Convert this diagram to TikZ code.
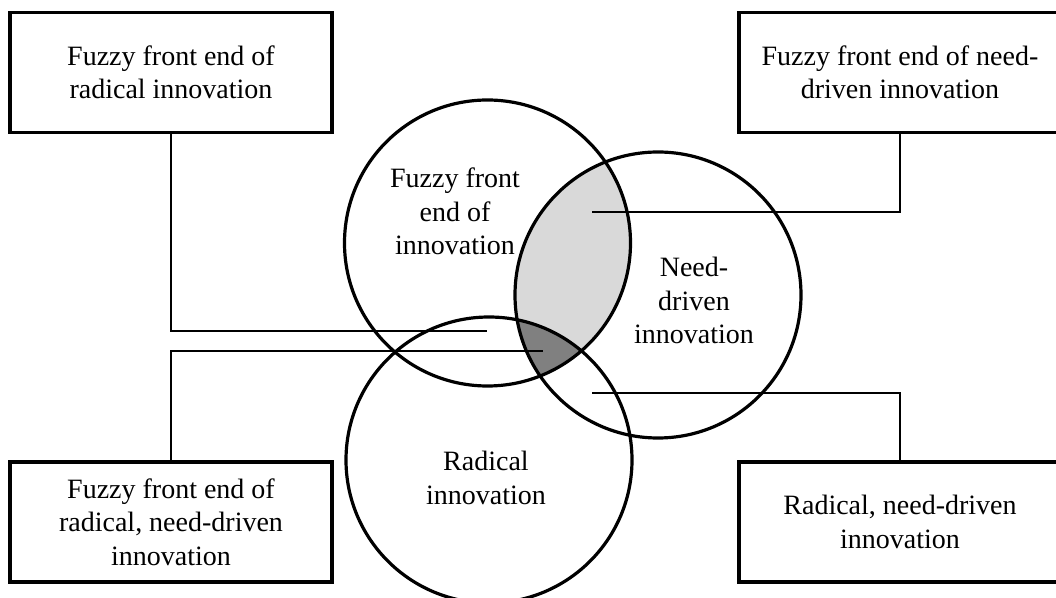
\documentclass[tikz,border=0pt]{standalone}
\usepackage{fontspec}
\setmainfont{Liberation Serif}
\begin{document}
\begin{tikzpicture}[x = 0.5pt, y = -0.5pt,
    font = \fontsize{14}{16.75}\selectfont,
    box/.style = {draw, line width = 1.6pt, minimum width = 161pt, minimum height = 60pt, align = center, inner sep = 0pt},
    ring/.style = {line width = 1.6pt},
    link/.style = {line width = 1.4pt},
    tag/.style = {align = center, inner sep = 0pt}]
            \useasboundingbox (0, 0) rectangle (1056, 598);
            \clip (0, 0) rectangle (1056, 598);

            % Centres of the three sets
            \coordinate (fuzzy) at (487.5, 243);
            \coordinate (need) at (658, 295);
            \coordinate (radical) at (489, 460);

            % Overlaps: light for two sets, dark for all three
            \begin{scope}
                \clip (fuzzy) circle [radius = 71.5pt];
                \fill [black!15] (need) circle [radius = 71.5pt];
                \clip (need) circle [radius = 71.5pt];
                \fill [black!50] (radical) circle [radius = 71.5pt];
            \end{scope}

            % Circles and their names
            \draw [ring] (fuzzy) circle [radius = 71.5pt];
            \draw [ring] (need) circle [radius = 71.5pt];
            \draw [ring] (radical) circle [radius = 71.5pt];
            \node [tag] (fuzzytxt) at (455, 211.5) {Fuzzy front\\end of\\innovation};
            \node [tag] (needtxt) at (694, 300.5) {Need-\\driven\\innovation};
            \node [tag] (radicaltxt) at (486, 478) {Radical\\innovation};

            % Boxes in the corners
            \node [box] (tl) at (171, 72.5) {Fuzzy front end of\\radical innovation};
            \node [box] (tr) at (900, 72.5) {Fuzzy front end of need-\\driven innovation};
            \node [box] (bl) at (171, 522) {Fuzzy front end of\\radical, need-driven\\innovation};
            \node [box] (br) at (900, 522) {Radical, need-driven\\innovation};

            % Where the connectors end
            \coordinate (e1) at (487, 331);
            \coordinate (e2) at (543, 351);
            \coordinate (e3) at (592, 212);
            \coordinate (e4) at (592, 393);
            \draw [link] (tl.south) |- (e1);
            \draw [link] (bl.north) |- (e2);
            \draw [link] (tr.south) |- (e3);
            \draw [link] (br.north) |- (e4);
        \end{tikzpicture}
\end{document}
